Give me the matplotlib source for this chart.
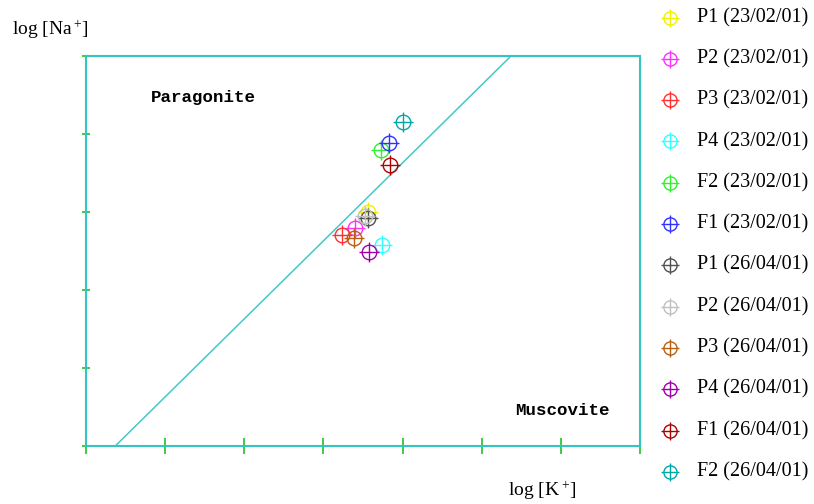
import matplotlib
matplotlib.use("Agg")
import matplotlib.pyplot as plt

plt.rcParams["mathtext.fontset"] = "custom"
plt.rcParams["mathtext.rm"] = "Liberation Serif"
plt.rcParams["mathtext.it"] = "Liberation Serif"

# Samples: label, log[K+], log[Na+], colour
labels = ["P1 (23/02/01)", "P2 (23/02/01)", "P3 (23/02/01)", "P4 (23/02/01)",
          "F2 (23/02/01)", "F1 (23/02/01)", "P1 (26/04/01)", "P2 (26/04/01)",
          "P3 (26/04/01)", "P4 (26/04/01)", "F1 (26/04/01)", "F2 (26/04/01)"]
log_k = [3.56, 3.40, 3.23, 3.74, 3.73, 3.83, 3.56, 3.53, 3.38, 3.58, 3.84, 4.01]
log_na = [3.00, 2.80, 2.70, 2.58, 3.79, 3.89, 2.92, 2.95, 2.67, 2.49, 3.60, 4.15]
colors = ["#f0f000", "#ff30ff", "#ff3030", "#30ffff", "#30f030", "#3030ff",
          "#505050", "#c0c0c0", "#b86010", "#a000a8", "#b00000", "#00a8a8"]

# Paragonite / muscovite boundary: log[Na+] = log[K+] + intercept
boundary_slope = 1.0
boundary_intercept = -0.37

x_ticks = [0, 1, 2, 3, 4, 5, 6, 7]
y_ticks = [0, 1, 2, 3, 4, 5]

fig = plt.figure(figsize=(8.14, 5.04), dpi=100)
ax = fig.add_axes([86 / 814, 1 - 446 / 504, 554 / 814, 390 / 504])
ax.set_xlim(0, 7)
ax.set_ylim(0, 5)

teal = "#33c4c4"
green = "#22c022"
for side in ["left", "right", "top", "bottom"]:
    ax.spines[side].set_color(teal)
    ax.spines[side].set_linewidth(1.5)

ax.set_xticks(x_ticks)
ax.set_yticks(y_ticks)
ax.tick_params(axis="x", direction="inout", length=11, width=1.2, color=green,
               labelbottom=False)
ax.tick_params(axis="y", direction="inout", length=5.5, width=1.2, color=green,
               labelleft=False)

bx = [0, 7]
by = [boundary_slope * v + boundary_intercept for v in bx]
ax.plot(bx, by, color="#44c8c8", lw=1.1, zorder=2)

def cross_circle(axis, x, y, c, ms_o=10.5, ms_p=14):
    axis.plot(x, y, marker="o", ms=ms_o, mfc="none", mec=c, mew=1.0,
              ls="none", zorder=3, clip_on=False)
    axis.plot(x, y, marker="+", ms=ms_p, mec=c, mew=1.0, ls="none",
              zorder=3, clip_on=False)

for k, na, c in zip(log_k, log_na, colors):
    cross_circle(ax, k, na, c)

mono = ["Liberation Mono", "DejaVu Sans Mono"]
ax.text(1.48, 4.47, "Paragonite", fontsize=12.6, fontweight="bold",
        family=mono, ha="center", va="center")
ax.text(6.02, 0.46, "Muscovite", fontsize=12.6, fontweight="bold",
        family=mono, ha="center", va="center")

serif = ["Liberation Serif", "DejaVu Serif"]
fig.text(12 / 814, 1 - 30 / 504, r"log [Na$\,^{+}$]", fontsize=14,
         family=serif, ha="left", va="center")
fig.text(508 / 814, 1 - 491 / 504, r"log [K$\,^{+}$]", fontsize=14,
         family=serif, ha="left", va="center")

# Legend column
leg = fig.add_axes([0, 0, 1, 1])
leg.set_xlim(0, 814)
leg.set_ylim(504, 0)
leg.axis("off")
row0, row_step = 17.5, 41.3
for i, (lab, c) in enumerate(zip(labels, colors)):
    yy = row0 + i * row_step
    cross_circle(leg, 670, yy, c, ms_o=9.5, ms_p=12.5)
    leg.text(697, yy, lab, fontsize=14.5, family=serif, ha="left",
             va="center")

fig.savefig("out.png", dpi=100)
